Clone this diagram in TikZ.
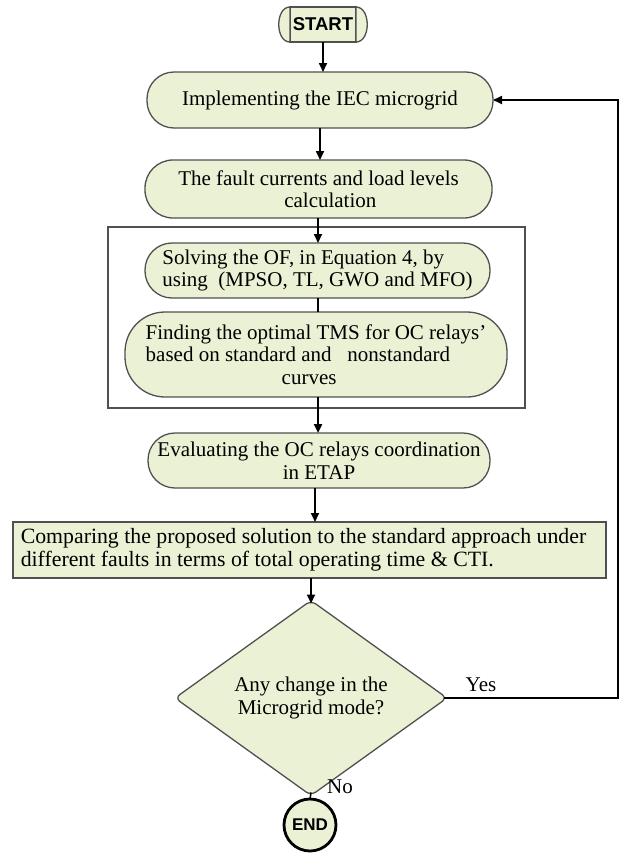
\documentclass[tikz,border=0pt]{standalone}
\usepackage{fontspec}
\setmainfont{Liberation Serif}
\newfontfamily\headfont{Liberation Sans}
\usetikzlibrary{arrows.meta,shapes.geometric,calc}
\definecolor{boxfill}{RGB}{235,241,212}
\definecolor{boxline}{RGB}{80,80,80}
\begin{document}
\begin{tikzpicture}[x=1pt,y=-1pt,
  every node/.style={font=\fontsize{21}{22.5}\selectfont, inner sep=0pt, outer sep=0pt},
  stad/.style={draw=boxline, line width=1.3pt, fill=boxfill, rounded corners=#1},
  arr/.style={-{Triangle[length=9pt,width=8pt]}, line width=1.7pt},
  link/.style={line width=1.5pt},
  head/.style={font=\headfont\bfseries\fontsize{18.5}{18.5}\selectfont}]
\useasboundingbox (0,0) rectangle (624,854);

% START terminator
\node[draw=boxline, line width=1.3pt, fill=boxfill, minimum width=66pt, minimum height=35pt, head] (start) at (323,24.5) {START};
\filldraw[draw=boxline, fill=boxfill, line width=1.3pt]
  (start.north east) .. controls +(15,0) and +(15,0) .. (start.south east) -- cycle;
\filldraw[draw=boxline, fill=boxfill, line width=1.3pt]
  (start.north west) .. controls +(-15,0) and +(-15,0) .. (start.south west) -- cycle;

\node[stad=27pt, minimum width=346pt, minimum height=56pt] (impl) at (320,100) {Implementing the IEC microgrid};

\node[stad=28pt, minimum width=347pt, minimum height=58pt, align=left] (fault) at (318.5,189) {The fault currents and load levels\\\hspace*{106pt}calculation};

\node[draw=boxline, line width=1.3pt, minimum width=417pt, minimum height=181pt] (grp) at (316.5,317.5) {};

\node[stad=27pt, minimum width=345pt, minimum height=55pt, align=left] (solve) at (317.5,270.5) {Solving the OF, in Equation 4, by\\using \ (MPSO, TL, GWO and MFO)};

\node[stad=40pt, minimum width=382pt, minimum height=85pt, align=left] (find) at (316,354.5) {Finding the optimal TMS for OC relays’\\based on standard and \ \ nonstandard\\\hspace*{136pt}curves};

\node[stad=27pt, minimum width=342pt, minimum height=55pt, align=center] (eval) at (319,460.5) {Evaluating the OC relays coordination\\in ETAP};

\node[draw=boxline, line width=1.5pt, fill=boxfill, minimum width=593pt, minimum height=56pt, align=left, font=\fontsize{21.8}{22.5}\selectfont] (comp) at (309.5,550) {Comparing the proposed solution to the standard approach under\hspace*{12pt}\\different faults in terms of total operating time \& CTI.};

\node[diamond, draw=boxline, line width=1.3pt, fill=boxfill, minimum width=272pt, minimum height=150pt, rounded corners=6pt, align=center] (dec) at (311,698) {Any change in the\\Microgrid mode?};

\node[circle, draw=black, line width=2.8pt, fill=boxfill, minimum size=52pt, font=\headfont\bfseries\fontsize{17}{17}\selectfont] (end) at (310,825) {END};

\node (yes) at (481,685) {Yes};
\node (no) at (340,787) {No};

% connectors
\draw[arr] (start.south) -- (start.south |- impl.north);
\draw[arr] (impl.south) -- (impl.south |- fault.north);
\draw[arr] (fault.south -| 318,0) -- (solve.north -| 318,0);
\draw[link] (solve.south -| 318,0) -- (find.north -| 318,0);
\draw[arr, line width=2.6pt] (find.south -| 318,0) -- (eval.north -| 318,0);
\draw[arr] (eval.south -| 315,0) -- (comp.north -| 315,0);
\draw[arr] (comp.south -| 311,0) -- ($(dec.north)+(0,3)$);
\draw[link] ($(dec.south)+(0,-3)$) -- (end.north);
\coordinate (fb) at (618,100);
\draw[arr] ($(dec.east)+(-3,0)$) -| (fb) -- (impl.east);
\end{tikzpicture}
\end{document}
